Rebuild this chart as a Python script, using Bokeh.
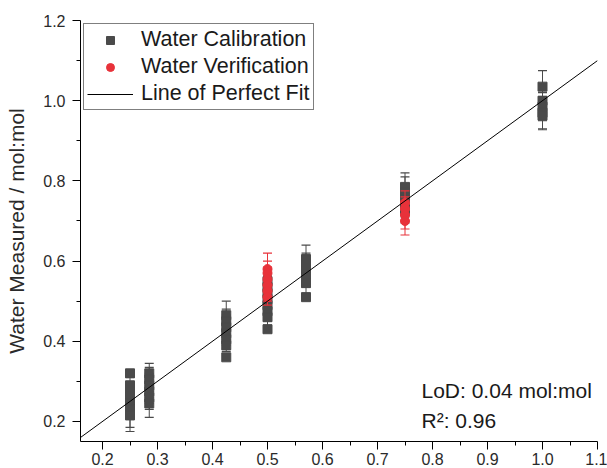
from bokeh.plotting import figure
from bokeh.models import Range1d, FixedTicker, PrintfTickFormatter, Label, Legend, LegendItem
from bokeh.embed import file_html
from bokeh.resources import INLINE

# ---- data ----
cal_x = ([0.25] * 7 + [0.285] * 6 + [0.425] * 7 + [0.5] * 8 + [0.57] * 6 + [0.75] * 5 + [1.0] * 5)
cal_y = [0.32, 0.29, 0.275, 0.26, 0.245, 0.23, 0.215,
         0.32, 0.305, 0.29, 0.275, 0.26, 0.245,
         0.465, 0.45, 0.435, 0.42, 0.405, 0.39, 0.36,
         0.55, 0.535, 0.52, 0.505, 0.49, 0.475, 0.46, 0.43,
         0.605, 0.59, 0.575, 0.56, 0.545, 0.51,
         0.785, 0.77, 0.755, 0.74, 0.725,
         1.035, 1.0, 0.985, 0.97, 0.9625]
cal_err = [0.0, 0.02, 0.025, 0.025, 0.03, 0.045, 0.04,
           0.025, 0.03, 0.03, 0.03, 0.03, 0.035,
           0.035, 0.03, 0.03, 0.03, 0.025, 0.015, 0.0,
           0.03, 0.03, 0.03, 0.03, 0.03, 0.025, 0.02, 0.0,
           0.035, 0.03, 0.03, 0.025, 0.025, 0.0,
           0.035, 0.04, 0.03, 0.03, 0.03,
           0.04, 0.035, 0.035, 0.04, 0.035]

ver_x = [0.5] * 6 + [0.75] * 4
ver_y = [0.58, 0.57, 0.555, 0.54, 0.525, 0.51,
         0.745, 0.73, 0.715, 0.70]
ver_err = [0.04, 0.03, 0.03, 0.03, 0.025, 0.02,
           0.03, 0.03, 0.035, 0.035]

fit_x = [0.15, 1.1]
fit_y = [0.15, 1.1]

x_ticks = [0.2, 0.3, 0.4, 0.5, 0.6, 0.7, 0.8, 0.9, 1.0, 1.1]
x_minor = [0.25, 0.35, 0.45, 0.55, 0.65, 0.75, 0.85, 0.95, 1.05]
y_ticks = [0.2, 0.4, 0.6, 0.8, 1.0, 1.2]
y_minor = [0.3, 0.5, 0.7, 0.9, 1.1]

GRAY = "#4a4a4a"
RED = "#e8323a"
FONT = "Liberation Sans"


def err_parts(xs, ys, es):
    bx, lo, hi = [], [], []
    for x, y, e in zip(xs, ys, es):
        if e > 0:
            bx.append(x)
            lo.append(y - e)
            hi.append(y + e)
    return bx, lo, hi


p = figure(width=607, height=468,
           x_range=Range1d(0.16, 1.1), y_range=Range1d(0.15, 1.2),
           output_backend="svg", toolbar_location=None,
           min_border_left=80, min_border_right=10, min_border_top=20, min_border_bottom=27)
p.outline_line_color = None
p.xgrid.visible = False
p.ygrid.visible = False
p.background_fill_color = "white"

# calibration
bx, lo, hi = err_parts(cal_x, cal_y, cal_err)
p.segment(bx, lo, bx, hi, line_color=GRAY, line_width=1)
p.scatter(bx + bx, lo + hi, marker="dash", size=9, line_color=GRAY, line_width=1.2)
cal_r = p.scatter(cal_x, cal_y, marker="square", size=9, fill_color=GRAY, line_color=GRAY)

# verification
bx, lo, hi = err_parts(ver_x, ver_y, ver_err)
p.segment(bx, lo, bx, hi, line_color=RED, line_width=1)
p.scatter(bx + bx, lo + hi, marker="dash", size=9, line_color=RED, line_width=1.2)
ver_r = p.scatter(ver_x, ver_y, marker="circle", size=9, fill_color=RED, line_color=RED)

fit_r = p.line(fit_x, fit_y, line_color="black", line_width=1)

# axes
for ax in (p.xaxis[0], p.yaxis[0]):
    ax.axis_line_color = "black"
    ax.major_tick_line_color = "black"
    ax.minor_tick_line_color = "black"
    ax.major_tick_in = 0
    ax.major_tick_out = 8
    ax.minor_tick_in = 0
    ax.minor_tick_out = 4
    ax.major_label_text_font = FONT
    ax.major_label_text_font_size = "16px"
    ax.major_label_text_color = "#2a2a2a"
    ax.formatter = PrintfTickFormatter(format="%.1f")

p.xaxis.major_label_standoff = 3
p.yaxis.major_label_standoff = 7
p.xaxis.ticker = FixedTicker(ticks=x_ticks, minor_ticks=x_minor)
p.yaxis.ticker = FixedTicker(ticks=y_ticks, minor_ticks=y_minor)
p.yaxis.axis_label = "Water Measured / mol:mol"
p.yaxis.axis_label_text_font = FONT
p.yaxis.axis_label_text_font_size = "21px"
p.yaxis.axis_label_text_font_style = "normal"
p.yaxis.axis_label_text_color = "#2a2a2a"
p.yaxis.axis_label_standoff = 12

legend = Legend(items=[
    LegendItem(label="Water Calibration", renderers=[cal_r]),
    LegendItem(label="Water Verification", renderers=[ver_r]),
    LegendItem(label="Line of Perfect Fit", renderers=[fit_r]),
], location="top_left")
legend.margin = 3
legend.padding = 3
legend.spacing = 2
legend.glyph_width = 46
legend.glyph_height = 20
legend.label_height = 20
legend.label_standoff = 8
legend.label_text_font = FONT
legend.label_text_font_size = "21.5px"
legend.label_text_color = "#1a1a1a"
legend.border_line_color = "black"
legend.border_line_width = 1
legend.background_fill_alpha = 1.0
p.add_layout(legend)

p.add_layout(Label(x=0.78, y=0.2775, text="LoD: 0.04 mol:mol", text_font=FONT,
                   text_font_size="21px", text_baseline="middle", text_color="#1a1a1a"))
p.add_layout(Label(x=0.78, y=0.2025, text="R²: 0.96", text_font=FONT,
                   text_font_size="21px", text_baseline="middle", text_color="#1a1a1a"))

open("out.html", "w").write(file_html(p, INLINE))
